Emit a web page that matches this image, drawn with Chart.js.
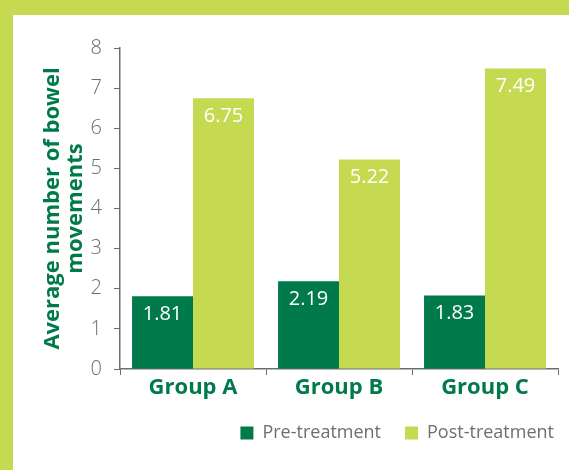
<!DOCTYPE html>
<html><head><meta charset="utf-8">
<script src="https://cdn.jsdelivr.net/npm/chart.js@4/dist/chart.umd.min.js"></script>
<style>
html,body{margin:0;padding:0;background:#fff;}
#wrap{position:absolute;left:0;top:0;width:556px;height:455px;border-top:15px solid #c6da51;border-left:13px solid #c6da51;background:#fff;}
canvas{display:block;}
</style></head>
<body><div id="wrap"><canvas id="c" width="556" height="455"></canvas></div>
<script>
const categories = ["Group A", "Group B", "Group C"];
const preTreatment = [1.81, 2.19, 1.83];
const postTreatment = [6.75, 5.22, 7.49];
const seriesNames = ["Pre-treatment", "Post-treatment"];
const yTicks = [0, 1, 2, 3, 4, 5, 6, 7, 8];

const DARK = "#007a4b", LIME = "#c6da51", GRAY = "#6d6e71";
const FONT = "'Open Sans', 'Noto Sans', sans-serif";

const valueLabels = {
  id: "valueLabels",
  afterDatasetsDraw(chart) {
    const ctx = chart.ctx;
    ctx.save();
    ctx.fillStyle = "#ffffff";
    ctx.font = "20px " + FONT;
    ctx.textAlign = "center";
    ctx.textBaseline = "middle";
    chart.data.datasets.forEach((ds, i) => {
      chart.getDatasetMeta(i).data.forEach((bar, j) => {
        ctx.fillText(ds.data[j].toFixed(2), bar.x, bar.y + 18);
      });
    });
    ctx.restore();
  }
};

// nudge the legend into its place at the lower right
const legendShift = {
  id: "legendShift",
  afterLayout(chart) {
    const lg = chart.legend;
    lg.left += 20; lg.right += 20;
    lg.top += 1; lg.bottom += 1;
  }
};

new Chart(document.getElementById("c"), {
  type: "bar",
  data: {
    labels: categories,
    datasets: [
      { label: seriesNames[0], data: preTreatment, backgroundColor: DARK },
      { label: seriesNames[1], data: postTreatment, backgroundColor: LIME }
    ]
  },
  options: {
    responsive: false,
    animation: false,
    events: [],
    layout: { padding: { left: 20, top: 33, right: 11, bottom: 19 } },
    datasets: { bar: { categoryPercentage: 0.835, barPercentage: 1.0 } },
    plugins: {
      tooltip: { enabled: false },
      legend: {
        position: "bottom",
        align: "end",
        labels: {
          boxWidth: 13, boxHeight: 13, padding: 24, color: GRAY,
          font: { family: FONT, size: 18 }
        }
      }
    },
    scales: {
      x: {
        afterFit(scale) { scale.height = 30; },
        grid: { offset: true, drawOnChartArea: false, drawTicks: true, tickLength: 6, color: GRAY, tickColor: GRAY },
        border: { display: true, color: GRAY, width: 1.5 },
        ticks: { color: DARK, padding: 0, font: { family: FONT, size: 22, weight: "bold" } }
      },
      y: {
        min: 0, max: 8,
        afterBuildTicks(scale) { scale.ticks = yTicks.map(v => ({ value: v })); },
        afterFit(scale) { scale.width = 87; },
        grid: { drawOnChartArea: false, drawTicks: true, tickLength: 6, color: GRAY, tickColor: GRAY },
        border: { display: true, color: GRAY, width: 1.5 },
        ticks: { color: GRAY, padding: 12, font: { family: FONT, size: 20, weight: "300" } },
        title: {
          display: true,
          text: ["Average number of bowel", "movements"],
          color: DARK,
          padding: { top: 8, bottom: 0 },
          font: { family: FONT, size: 22, weight: "bold", lineHeight: 1.05 }
        }
      }
    }
  },
  plugins: [valueLabels, legendShift]
});
</script>
</body></html>
